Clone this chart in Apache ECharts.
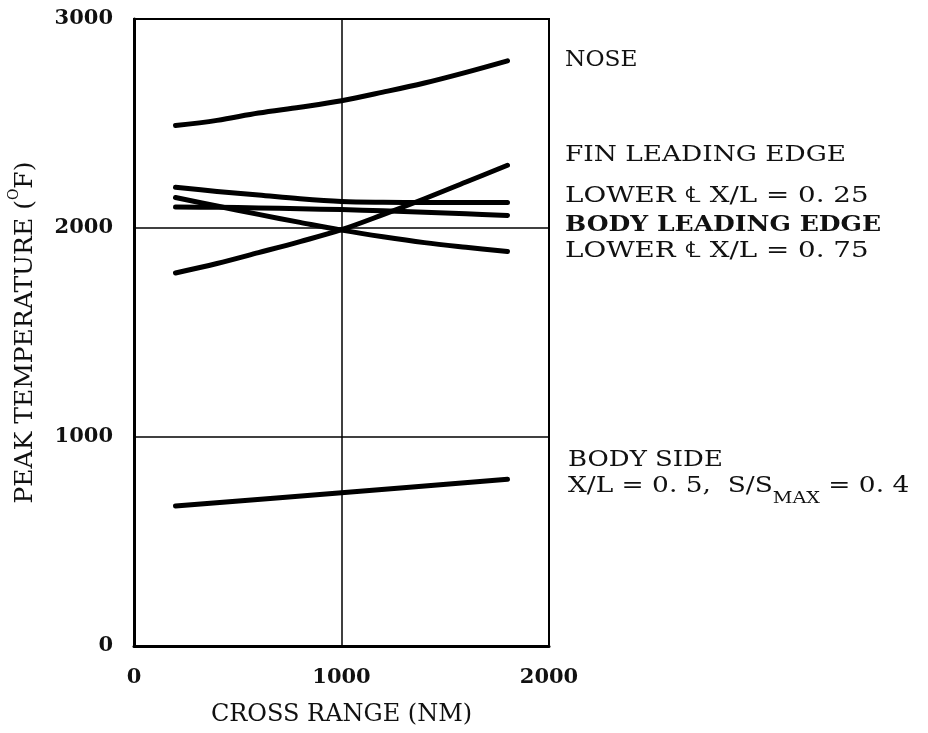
<!DOCTYPE html>
<html>
<head>
<meta charset="utf-8">
<script src="https://cdn.jsdelivr.net/npm/echarts@6/dist/echarts.min.js"></script>
<style>html,body{margin:0;padding:0;background:#fff}#c{width:928px;height:733px}</style>
</head>
<body>
<div id="c"></div>
<script>
// ---- data ----
var crossRange = [200, 400, 600, 800, 1000, 1200, 1400, 1600, 1800];
var nose = [2490, 2515, 2550, 2578, 2609, 2650, 2694, 2745, 2800];
var finLeadingEdge = [2195, 2175, 2158, 2140, 2127, 2123, 2122, 2122, 2122];
var lowerCL025 = [2100, 2099, 2096, 2092, 2088, 2082, 2075, 2068, 2060];
var bodyLeadingEdge = [2146, 2105, 2065, 2027, 1990, 1958, 1930, 1908, 1888];
var lowerCL075 = [1785, 1830, 1882, 1935, 1992, 2064, 2140, 2220, 2300];
var bodySideX = [200, 1000, 1800];
var bodySide = [670, 733, 798];
var xTicks = [0, 1000, 2000];
var yTicks = [0, 1000, 2000, 3000];
var labelTexts = ['NOSE', 'FIN LEADING EDGE', 'LOWER ℄ X/L = 0. 25', 'BODY LEADING EDGE', 'LOWER ℄ X/L = 0. 75', 'BODY SIDE'];

var FONT = '"DejaVu Serif", "Liberation Serif", serif';
var INK = '#111';

function pairs(xs, ys) { return xs.map(function (x, i) { return [x, ys[i]]; }); }
function curve(name, xs, ys) {
  return {
    name: name, type: 'line', data: pairs(xs, ys), smooth: 0.35,
    showSymbol: false, symbol: 'none', silent: true,
    lineStyle: { color: '#000', width: 5, cap: 'round', join: 'round' }
  };
}
function note(text, x, y, sx, bold) {
  return {
    type: 'text', x: x, y: y, scaleX: sx, silent: true,
    style: { text: text, x: 0, y: 0, align: 'left', verticalAlign: 'middle',
      font: (bold ? 'bold ' : '') + '22px ' + FONT, fill: INK }
  };
}

var chart = echarts.init(document.getElementById('c'), null, { renderer: 'canvas' });
chart.setOption({
  backgroundColor: '#fff',
  animation: false,
  textStyle: { fontFamily: FONT, color: INK },
  grid: { left: 134, right: 379, top: 19, bottom: 87, show: true, borderColor: '#000', borderWidth: 2, backgroundColor: 'transparent' },
  xAxis: {
    type: 'value', min: xTicks[0], max: xTicks[xTicks.length - 1], interval: 1000,
    axisLine: { show: true, onZero: false, lineStyle: { color: '#000', width: 3 } },
    axisTick: { show: false },
    splitLine: { show: true, lineStyle: { color: '#000', width: 1.5 } },
    axisLabel: { margin: 21, fontSize: 21, fontFamily: FONT, color: INK, fontWeight: 'bold',
      formatter: function (v) { return xTicks.indexOf(v) >= 0 ? String(v) : ''; } },
    name: 'CROSS RANGE (NM)', nameLocation: 'middle', nameGap: 57,
    nameTextStyle: { fontSize: 24, fontFamily: FONT, color: INK }
  },
  yAxis: {
    type: 'value', min: yTicks[0], max: yTicks[yTicks.length - 1], interval: 1000,
    axisLine: { show: true, onZero: false, lineStyle: { color: '#000', width: 3 } },
    axisTick: { show: false },
    splitLine: { show: true, lineStyle: { color: '#000', width: 1.5 } },
    axisLabel: { margin: 21, fontSize: 21, fontFamily: FONT, color: INK, fontWeight: 'bold',
      formatter: function (v) { return yTicks.indexOf(v) >= 0 ? String(v) : ''; } },
    name: '{a|PEAK TEMPERATURE (}{sup|O}{a|F)}', nameLocation: 'middle', nameGap: 96,
    nameTextStyle: {
      fontSize: 25, fontFamily: FONT, color: INK,
      rich: {
        a: { fontSize: 25, fontFamily: FONT, color: INK, lineHeight: 31, verticalAlign: 'bottom' },
        sup: { fontSize: 14, fontFamily: FONT, color: INK, lineHeight: 31, verticalAlign: 'top' }
      }
    }
  },
  series: [
    curve(labelTexts[0], crossRange, nose),
    curve(labelTexts[1], crossRange, finLeadingEdge),
    curve(labelTexts[2], crossRange, lowerCL025),
    curve(labelTexts[3], crossRange, bodyLeadingEdge),
    curve(labelTexts[4], crossRange, lowerCL075),
    curve(labelTexts[5], bodySideX, bodySide)
  ],
  graphic: [
    note(labelTexts[0], 565, 60, 1.06, false),
    note(labelTexts[1], 565, 155, 1.2, false),
    note(labelTexts[2], 565, 196, 1.26, false),
    note(labelTexts[3], 565, 225, 1.14, true),
    note(labelTexts[4], 565, 251, 1.26, false),
    note(labelTexts[5], 568, 460, 1.18, false),
    {
      type: 'text', x: 568, y: 475, scaleX: 1.2, silent: true,
      style: {
        text: '{a|X/L = 0. 5,  S/S}{sub|MAX}{a| = 0. 4}',
        x: 0, y: 0, align: 'left', verticalAlign: 'top',
        font: '22px ' + FONT, fill: INK,
        rich: {
          a: { font: '22px ' + FONT, fill: INK, lineHeight: 26, verticalAlign: 'top' },
          sub: { font: '16px ' + FONT, fill: INK, lineHeight: 32, verticalAlign: 'bottom' }
        }
      }
    }
  ]
});
</script>
</body>
</html>
